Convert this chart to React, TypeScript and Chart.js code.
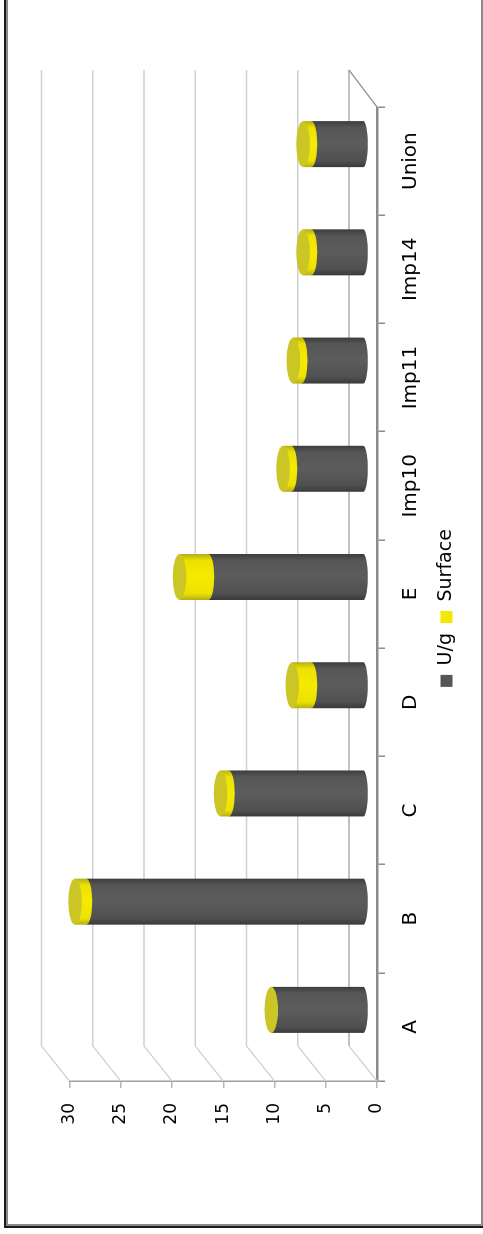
import React, { useEffect, useRef } from "react";
import { Chart, registerables } from "chart.js";

Chart.register(...registerables);

const categories = ["A", "B", "C", "D", "E", "Imp10", "Imp11", "Imp14", "Union"];
const activity = [9.05, 27.1, 13.2, 5.15, 15.2, 7.1, 6.1, 5.15, 5.15];
const surface = [0, 1.1, 0.8, 1.85, 2.8, 0.8, 0.8, 0.8, 0.8];
const valueTicksMax = 30;
const valueTicksStep = 5;

// The drawing is laid out sideways and the canvas is turned a quarter turn by CSS.
const WIDTH = 1234;
const HEIGHT = 483;

// Depth of the 3D box, in canvas pixels.
const DEPTH_U = 35;
const DEPTH_V = 28;
// Cylinders stand half way into the box.
const BAR_U = 17;
const BAR_V = 13;
// The legend sits centred on the plot box rather than on the canvas.
const LEGEND_SHIFT = 28.5;

const GREY_STOPS = ["#3a3a3a", "#505050", "#5c5c5c", "#565656", "#3c3c3c"];
const YELLOW_STOPS = ["#b4ae18", "#ece200", "#f6ea00", "#ece200", "#b4ae18"];

const wallPlugin = {
  id: "wall3d",
  afterLayout(chart: any) {
    chart.legend.left += LEGEND_SHIFT;
    chart.legend.right += LEGEND_SHIFT;
  },
  beforeDatasetsDraw(chart: any) {
    const { ctx, chartArea, scales } = chart;
    const { left, right } = chartArea;
    ctx.save();
    ctx.lineWidth = 1.6;
    for (let t = 0; t <= valueTicksMax; t += valueTicksStep) {
      const v = scales.y.getPixelForValue(t);
      ctx.strokeStyle = t === 0 ? "#acacac" : "#cfcfcf";
      ctx.beginPath();
      ctx.moveTo(left + DEPTH_U, v - DEPTH_V);
      ctx.lineTo(right + 37, v - DEPTH_V);
      ctx.stroke();
      ctx.strokeStyle = "#cfcfcf";
      ctx.lineWidth = 1.2;
      ctx.beginPath();
      ctx.moveTo(left, v);
      ctx.lineTo(left + DEPTH_U, v - DEPTH_V);
      ctx.stroke();
      ctx.lineWidth = 1.6;
    }
    const floor = scales.y.getPixelForValue(0);
    ctx.strokeStyle = "#8e8a90";
    ctx.lineWidth = 1.2;
    ctx.beginPath();
    ctx.moveTo(right, floor);
    ctx.lineTo(right + 37, floor - DEPTH_V);
    ctx.stroke();
    ctx.restore();
  },
};

function cylinderBody(
  ctx: CanvasRenderingContext2D,
  u: number,
  half: number,
  top: number,
  base: number,
  baseBulge: number,
  stops: string[],
) {
  const fill = ctx.createLinearGradient(u - half, 0, u + half, 0);
  stops.forEach((c, i) => fill.addColorStop(i === 0 ? 0 : i === 1 ? 0.14 : i === 2 ? 0.5 : i === 3 ? 0.86 : 1, c));
  ctx.fillStyle = fill;
  ctx.beginPath();
  ctx.moveTo(u - half, top);
  ctx.lineTo(u + half, top);
  ctx.lineTo(u + half, base);
  ctx.ellipse(u, base, half, baseBulge, 0, 0, Math.PI);
  ctx.closePath();
  ctx.fill();
}

const cylinderPlugin = {
  id: "cylinders",
  beforeDatasetDraw() {
    return false;
  },
  afterDatasetsDraw(chart: any) {
    const { ctx } = chart;
    const grey = chart.getDatasetMeta(0).data;
    const yellow = chart.getDatasetMeta(1).data;
    ctx.save();
    grey.forEach((bar: any, i: number) => {
      const cap = yellow[i];
      const u = bar.x + BAR_U;
      const half = bar.width / 2;
      cylinderBody(ctx, u, half, bar.y - BAR_V, bar.base - BAR_V, 4.5, GREY_STOPS);
      cylinderBody(ctx, u, half, cap.y - BAR_V, cap.base - BAR_V, 6, YELLOW_STOPS);
      ctx.fillStyle = "#cbc626";
      ctx.beginPath();
      ctx.ellipse(u, cap.y - BAR_V, half, 6.8, 0, 0, Math.PI * 2);
      ctx.fill();
    });
    ctx.restore();
  },
};

const framePlugin = {
  id: "frame",
  beforeDraw(chart: any) {
    const { ctx } = chart;
    ctx.save();
    ctx.fillStyle = "#ffffff";
    ctx.fillRect(0, 0, WIDTH, HEIGHT);
    // Outer dark rule and inner grey rule on three sides; the fourth runs off the page.
    ctx.fillStyle = "#1c1c1c";
    ctx.fillRect(6, 4, WIDTH, 2);
    ctx.fillRect(6, 4, 2, HEIGHT);
    ctx.fillStyle = "#8a8a8a";
    ctx.fillRect(8, 6, WIDTH, 2);
    ctx.fillRect(8, 6, 2, HEIGHT);
    ctx.fillRect(8, HEIGHT - 2, WIDTH, 2);
    ctx.restore();
  },
};

export default function App() {
  const ref = useRef<HTMLCanvasElement | null>(null);

  useEffect(() => {
    if (!ref.current) return;
    const chart = new Chart(ref.current, {
      type: "bar",
      plugins: [framePlugin, wallPlugin, cylinderPlugin],
      data: {
        labels: categories,
        datasets: [
          { label: "U/g", data: activity, backgroundColor: "#565656", borderWidth: 0 },
          { label: "Surface", data: surface, backgroundColor: "#f5e800", borderWidth: 0 },
        ],
      },
      options: {
        responsive: false,
        animation: false,
        devicePixelRatio: 1,
        barPercentage: 0.425,
        categoryPercentage: 1,
        layout: { padding: { left: 68, right: 107, top: 69.5, bottom: 17 } },
        plugins: {
          tooltip: { enabled: false },
          title: { display: false },
          legend: {
            position: "bottom",
            labels: {
              boxWidth: 12,
              boxHeight: 12,
              padding: 10,
              color: "#000000",
              font: { family: "DejaVu Sans", size: 19 },
            },
          },
        },
        scales: {
          x: {
            stacked: true,
            afterFit(scale: any) {
              scale.height = 50;
            },
            grid: { drawOnChartArea: false, drawTicks: true, tickLength: 8, color: "#8e8a90", lineWidth: 1.5 },
            border: { color: "#8e8a90", width: 2.5 },
            ticks: {
              autoSkip: false,
              maxRotation: 0,
              minRotation: 0,
              padding: 14,
              color: "#000000",
              font: { family: "DejaVu Sans", size: 20 },
            },
          },
          y: {
            stacked: true,
            min: 0,
            max: valueTicksMax,
            afterFit(scale: any) {
              scale.width = 85;
            },
            grid: { drawOnChartArea: false, drawTicks: true, tickLength: 7, color: "#b8b4b8", lineWidth: 1.5 },
            border: { color: "#a0a0a0", width: 1.5 },
            ticks: {
              stepSize: valueTicksStep,
              padding: 15,
              color: "#000000",
              font: { family: "DejaVu Sans", size: 17 },
            },
          },
        },
      } as any,
    });
    return () => chart.destroy();
  }, []);

  return (
    <div style={{ position: "absolute", left: 0, top: 0, width: HEIGHT, height: WIDTH, overflow: "hidden", background: "#fff" }}>
      <canvas
        ref={ref}
        width={WIDTH}
        height={HEIGHT}
        style={{
          display: "block",
          transformOrigin: "0 0",
          transform: `translateY(${WIDTH}px) rotate(-90deg)`,
        }}
      />
    </div>
  );
}
